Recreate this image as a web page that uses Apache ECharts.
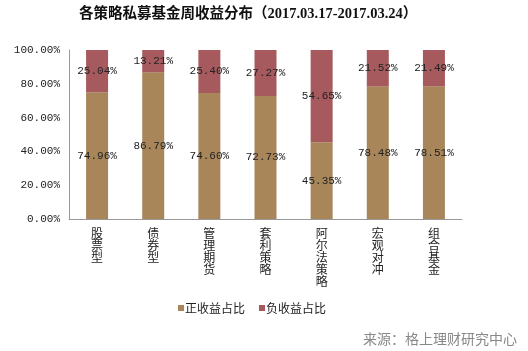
<!DOCTYPE html>
<html>
<head>
<meta charset="utf-8">
<script src="https://cdn.jsdelivr.net/npm/echarts@6/dist/echarts.min.js"></script>
<style>
  html, body { margin: 0; padding: 0; background: #fff; }
  #main { width: 528px; height: 351px; }
</style>
</head>
<body>
<div id="main"></div>
<script>
// 分类
var categories = ['股票型', '债券型', '管理期货', '套利策略', '阿尔法策略', '宏观对冲', '组合基金'];
// 正收益占比 / 负收益占比 (%)
var positiveShare = [74.96, 86.79, 74.60, 72.73, 45.35, 78.48, 78.51];
var negativeShare = [25.04, 13.21, 25.40, 27.27, 54.65, 21.52, 21.49];
var yTicks = [0, 20, 40, 60, 80, 100];

var chart = echarts.init(document.getElementById('main'), null, { renderer: 'canvas' });

var labelFont = {
  show: true,
  position: 'inside',
  color: '#222',
  fontFamily: 'Liberation Mono',
  fontSize: 11,
  formatter: function (p) { return p.value.toFixed(2) + '%'; }
};

var option = {
  animation: false,
  title: [{
    text: '各策略私募基金周收益分布（2017.03.17-2017.03.24）',
    left: 74,
    top: 2,
    textStyle: {
      fontFamily: "'Liberation Serif', 'Noto Sans CJK SC'",
      fontSize: 14.5,
      fontWeight: 'bold',
      color: '#111'
    }
  }, {
    // 来源
    text: '来源：格上理财研究中心',
    right: 6,
    top: 327,
    textStyle: {
      fontFamily: 'Noto Sans CJK SC',
      fontSize: 14,
      fontWeight: 'normal',
      color: '#888'
    }
  }],
  legend: {
    data: ['正收益占比', '负收益占比'],
    left: 173,
    top: 297,
    itemWidth: 6,
    itemHeight: 6,
    itemGap: 14,
    icon: 'rect',
    textStyle: {
      fontFamily: 'Noto Sans CJK SC',
      fontSize: 12,
      color: '#222',
      padding: [0, 0, 0, -4]
    }
  },
  grid: {
    left: 69,
    right: 66,
    top: 50,
    bottom: 132,
    containLabel: false
  },
  xAxis: {
    type: 'category',
    data: categories,
    axisLine: { lineStyle: { color: '#999' } },
    axisTick: { show: false },
    axisLabel: {
      interval: 0,
      margin: 8,
      verticalAlign: 'top',
      fontFamily: 'Noto Sans CJK SC',
      fontSize: 12,
      lineHeight: 12,
      color: '#222',
      formatter: function (v) { return v.split('').join('\n'); }
    }
  },
  yAxis: {
    type: 'value',
    min: 0,
    max: 100,
    interval: 20,
    axisLine: { show: true, lineStyle: { color: '#999' } },
    axisTick: { show: false },
    splitLine: { show: false },
    axisLabel: {
      margin: 9,
      fontFamily: 'Liberation Mono',
      fontSize: 11,
      color: '#222',
      formatter: function (v) { return yTicks.indexOf(v) >= 0 ? v.toFixed(2) + '%' : ''; }
    }
  },
  series: [{
    name: '正收益占比',
    type: 'bar',
    stack: 'total',
    barWidth: 22,
    data: positiveShare,
    itemStyle: { color: '#A8865A' },
    label: labelFont
  }, {
    name: '负收益占比',
    type: 'bar',
    stack: 'total',
    barWidth: 22,
    data: negativeShare,
    itemStyle: { color: '#A65A5E' },
    label: labelFont
  }]
};

chart.setOption(option);
</script>
</body>
</html>
